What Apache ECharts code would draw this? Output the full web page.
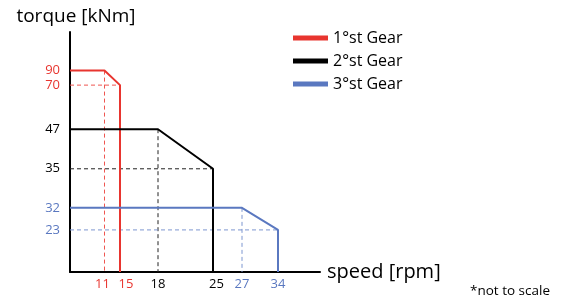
<!DOCTYPE html>
<html>
<head>
<meta charset="utf-8">
<script src="https://cdn.jsdelivr.net/npm/echarts@6/dist/echarts.min.js"></script>
<style>
    html, body { margin: 0; padding: 0; background: #fff; }
    #box { width: 561px; height: 300px; }
</style>
</head>
<body>
<div id="box"></div>
<script>
// each gear: start, first corner, second corner, drop to zero  [speed, torque]
var gearNames = ['1°st Gear', '2°st Gear', '3°st Gear'];
var gear1 = [[0, 90], [11, 90], [15, 70], [15, 0]];
var gear2 = [[0, 47], [18, 47], [25, 35], [25, 0]];
var gear3 = [[0, 32], [27, 32], [34, 23], [34, 0]];
var speedTicks = [11, 15, 18, 25, 27, 34];
var torqueTicks = [23, 32, 35, 47, 70, 90];

var gearColors = ['#e8352f', '#000000', '#5a78c0'];
var guideColors = ['#ef5550', '#222222', '#7d96d0'];

// the chart is "not to scale": piecewise axis, real value -> axis position
var xStops = [0, 11, 15, 18, 25, 27, 34];
var xPos = [0, 34.5, 50, 88, 143, 172, 208];
var yStops = [0, 23, 32, 35, 47, 70, 90];
var yPos = [0, 42, 64, 103, 142.5, 186.5, 201];
// small nudges of the speed labels so they don't collide
var xLabelPad = { 11: [0, 4, 0, 0], 15: [0, 0, 0, 12], 25: [0, 0, 0, 7] };

function toPos(v, stops, pos) {
    for (var i = 1; i < stops.length; i++) {
        if (v <= stops[i]) {
            var t = (v - stops[i - 1]) / (stops[i] - stops[i - 1]);
            return pos[i - 1] + t * (pos[i] - pos[i - 1]);
        }
    }
    return pos[pos.length - 1];
}
function mapPoint(p) {
    return [toPos(p[0], xStops, xPos), toPos(p[1], yStops, yPos)];
}
function gearOf(ticks, v) {
    var gears = [gear1, gear2, gear3];
    for (var g = 0; g < gears.length; g++) {
        for (var k = 0; k < gears[g].length; k++) {
            if (gears[g][k][ticks] === v) return g;
        }
    }
    return 1;
}
var colorRich = { g0: { color: gearColors[0] }, g1: { color: '#000' }, g2: { color: gearColors[2] } };
var xRich = {};
speedTicks.forEach(function (v) {
    xRich['s' + v] = {
        color: colorRich['g' + gearOf(0, v)].color,
        padding: xLabelPad[v] || 0
    };
});

window.onload = function () {
    var myChart = echarts.init(document.getElementById('box'));
    var gears = [gear1, gear2, gear3];
    var series = [];

    gears.forEach(function (g, i) {
        var c1 = g[1], c2 = g[2];
        // dashed guides from the corners down/left to the axes
        series.push({
            name: 'guide' + i, type: 'line', symbol: 'none', silent: true,
            lineStyle: { color: guideColors[i], width: 1, type: [4, 3] },
            data: [mapPoint([0, c2[1]]), mapPoint(c2)]
        });
        series.push({
            name: 'guide' + i, type: 'line', symbol: 'none', silent: true,
            lineStyle: { color: guideColors[i], width: 1, type: [4, 3] },
            data: [mapPoint(c1), mapPoint([c1[0], 0])]
        });
    });
    gears.forEach(function (g, i) {
        series.push({
            name: gearNames[i], type: 'line', symbol: 'none', color: gearColors[i],
            lineStyle: { color: gearColors[i], width: 2 },
            data: g.map(mapPoint)
        });
    });

    var option = {
        animation: false,
        textStyle: { fontFamily: 'Open Sans' },
        grid: { left: 70, right: 241, top: 32, bottom: 28 },
        legend: {
            data: gearNames,
            orient: 'vertical',
            left: 288, top: 25,
            icon: 'rect', itemWidth: 35, itemHeight: 5, itemGap: 7,
            textStyle: { fontSize: 16, lineHeight: 16, color: '#000', fontFamily: 'Open Sans' }
        },
        xAxis: {
            type: 'value', min: 0, max: 250,
            name: 'speed [rpm]', nameLocation: 'end', nameGap: 7,
            nameTextStyle: { fontSize: 20, color: '#000', verticalAlign: 'middle', fontFamily: 'Open Sans' },
            axisLine: { onZero: false, lineStyle: { color: '#000', width: 2 } },
            axisTick: { show: false },
            splitLine: { show: false },
            axisLabel: {
                customValues: speedTicks.map(function (v) { return toPos(v, xStops, xPos); }),
                margin: 6, fontSize: 13,
                formatter: function (val) {
                    var v = xStops[xPos.indexOf(val)];
                    return '{s' + v + '|' + v + '}';
                },
                rich: xRich
            }
        },
        yAxis: {
            type: 'value', min: 0, max: 239.5,
            name: 'torque [kNm]', nameLocation: 'end', nameGap: 6,
            nameTextStyle: { fontSize: 19, color: '#000', align: 'center', padding: [0, 0, 0, 12], fontFamily: 'Open Sans' },
            axisLine: { onZero: false, lineStyle: { color: '#000', width: 2 } },
            axisTick: { show: false },
            splitLine: { show: false },
            axisLabel: {
                customValues: torqueTicks.map(function (v) { return toPos(v, yStops, yPos); }),
                margin: 10, fontSize: 13,
                formatter: function (val) {
                    var v = yStops[yPos.indexOf(val)];
                    return '{g' + gearOf(1, v) + '|' + v + '}';
                },
                rich: colorRich
            }
        },
        graphic: [{
            type: 'text', left: 470, top: 284,
            style: { text: '*not to scale', fontSize: 13.5, fill: '#000', fontFamily: 'Open Sans' }
        }],
        series: series
    };
    myChart.setOption(option);
};
</script>
</body>
</html>
